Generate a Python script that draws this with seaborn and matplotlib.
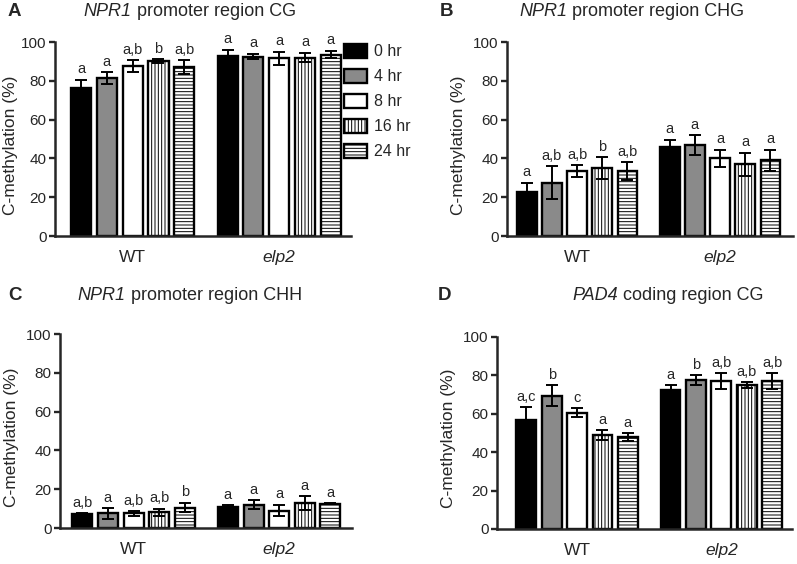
import matplotlib
matplotlib.use('Agg')
import pandas as pd
import matplotlib.pyplot as plt
import seaborn as sns
from matplotlib.container import BarContainer

sns.set_style('ticks')
plt.rcParams['font.family'] = ['Liberation Sans', 'DejaVu Sans']
plt.rcParams['hatch.linewidth'] = 0.7
plt.rcParams['hatch.color'] = 'black'

genotypes = ['WT', 'elp2']
times = ['0 hr', '4 hr', '8 hr', '16 hr', '24 hr']
colors = ['black', '#8a8a8a', 'white', 'white', 'white']
hatches = ['', '', '', '|||||', '-----']

# values are WT (0..24 hr) then elp2 (0..24 hr)
cg_mean = [76.5, 81.5, 87.5, 90, 87, 93, 92.5, 91.5, 92, 93.5]
cg_err = [4, 3, 3, 1, 3.5, 3, 1.5, 3.5, 2.5, 2]
cg_letters = ['a', 'a', 'a,b', 'b', 'a,b', 'a', 'a', 'a', 'a', 'a']

chg_mean = [22.5, 27.5, 33.5, 35, 33.5, 46, 47, 40, 37, 39]
chg_err = [5, 8.5, 3, 5.5, 4.5, 3.5, 5, 4.5, 6, 5.5]
chg_letters = ['a', 'a,b', 'a,b', 'b', 'a,b', 'a', 'a', 'a', 'a', 'a']

chh_mean = [7, 7.5, 7.5, 8, 10.5, 11, 12, 9, 13, 12.5]
chh_err = [0.7, 2.7, 1.2, 2, 2.5, 0.6, 2.3, 3, 3.5, 0.2]
chh_letters = ['a,b', 'a', 'a,b', 'a,b', 'b', 'a', 'a', 'a', 'a', 'a']

pad4_mean = [57, 69.5, 60.5, 49, 48, 72.5, 77.5, 77, 75, 77]
pad4_err = [6.5, 5.5, 2.3, 2.5, 2, 2.5, 2.5, 4, 1.5, 4]
pad4_letters = ['a,c', 'b', 'c', 'a', 'a', 'a', 'b', 'a,b', 'a,b', 'a,b']

W, H = 797, 564
fig = plt.figure(figsize=(W / 100, H / 100), dpi=100)


def px_axes(left, top, right, bottom):
    return fig.add_axes([left / W, 1 - bottom / H, (right - left) / W, (bottom - top) / H])


def panel(ax, means, errs, letters, xlim, label_right):
    df = pd.DataFrame({
        'genotype': [g for g in genotypes for _ in times],
        'time': times * len(genotypes),
        'value': means,
    })
    sns.barplot(data=df, x='genotype', y='value', hue='time', order=genotypes,
                hue_order=times, palette=colors, width=0.88, gap=0.22,
                edgecolor='black', linewidth=1.7, errorbar=None, legend=False,
                saturation=1, ax=ax)
    bar_sets = [c for c in ax.containers if isinstance(c, BarContainer)]
    for i, cont in enumerate(bar_sets):
        for j, bar in enumerate(cont.patches):
            bar.set_hatch(hatches[i])
            k = j * len(times) + i
            x = bar.get_x() + bar.get_width() / 2
            y = bar.get_height()
            ax.errorbar(x, y, yerr=errs[k], color='black', capsize=4.5,
                        elinewidth=1.4, capthick=1.4, zorder=5)
            ax.annotate(letters[k], (x, y + errs[k]), xytext=(0, 2.5),
                        textcoords='offset points', ha='center', va='bottom',
                        fontsize=10.5)
    ax.set_xlim(*xlim)
    ax.set_ylim(0, 100)
    ax.set_yticks(range(0, 101, 20))
    ax.set_xlabel('')
    ax.set_ylabel('C-methylation (%)', fontsize=12.5)
    bb = ax.get_position()
    ax.yaxis.set_label_coords((label_right / W - bb.x0) / bb.width, 0.47)
    ax.set_xticks([0, 1])
    ax.set_xticklabels(genotypes)
    ax.get_xticklabels()[1].set_fontstyle('italic')
    ax.tick_params(axis='x', length=0, pad=10, labelsize=12.5)
    ax.tick_params(axis='y', length=4, width=1.7, labelsize=11, pad=2)
    sns.despine(ax=ax)
    for s in ['left', 'bottom']:
        ax.spines[s].set_linewidth(1.8)
    return bar_sets


barsA = panel(px_axes(55, 42, 351, 236), cg_mean, cg_err, cg_letters, (-0.53, 1.49), 18)
panel(px_axes(507, 42, 793, 236), chg_mean, chg_err, chg_letters, (-0.49, 1.51), 466)
panel(px_axes(60, 334, 352, 528), chh_mean, chh_err, chh_letters, (-0.505, 1.5), 19)
panel(px_axes(497, 337, 792, 529), pad4_mean, pad4_err, pad4_letters, (-0.555, 1.49), 456)

handles = [cont.patches[0] for cont in barsA]
fig.legend(handles, times, loc='upper left', bbox_to_anchor=(344 / W, 1 - 44 / H),
           frameon=False, fontsize=11.5, handlelength=1.45, handleheight=0.95,
           labelspacing=0.6, handletextpad=0.45, borderpad=0, borderaxespad=0)

for lab, x, y in [('A', 8, 12), ('B', 440, 12), ('C', 8, 295), ('D', 438, 295)]:
    fig.text(x / W, 1 - y / H, lab, fontsize=13.5, fontweight='bold', va='center')

# titles: italic gene name followed by upright text, centred as a whole
titles = [('NPR1', ' promoter region CG', 190, 12),
          ('NPR1', ' promoter region CHG', 632, 12),
          ('NPR1', ' promoter region CHH', 190, 295),
          ('PAD4', ' coding region CG', 668, 295)]
renderer = fig.canvas.get_renderer()
for gene, rest, x, y in titles:
    t1 = fig.text(0, 1 - y / H, gene, fontsize=13, style='italic', va='center')
    t2 = fig.text(0, 1 - y / H, rest, fontsize=13, va='center')
    w1 = t1.get_window_extent(renderer).width
    w2 = t2.get_window_extent(renderer).width
    start = x - (w1 + w2) / 2
    t1.set_x(start / W)
    t2.set_x((start + w1) / W)

fig.savefig('out.png', dpi=100)
